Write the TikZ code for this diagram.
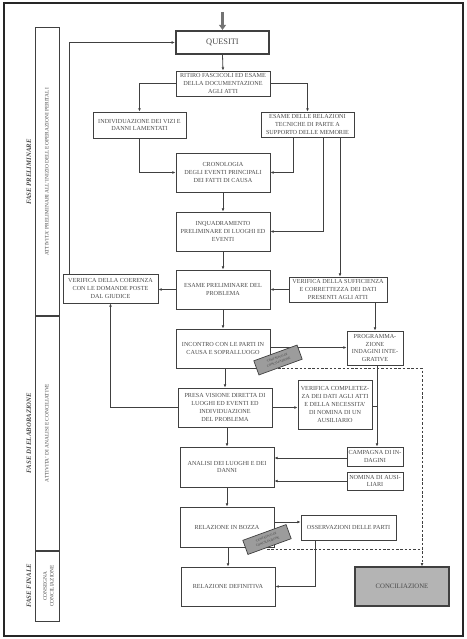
\documentclass[tikz,border=0pt]{standalone}
\usepackage{fontspec}
\setmainfont{Liberation Serif}
\usetikzlibrary{arrows.meta}
\definecolor{ln}{HTML}{404040}
\definecolor{tx}{HTML}{4A4A4A}
\definecolor{tagfill}{HTML}{9C9C9C}
\definecolor{concfill}{HTML}{B4B4B4}
\tikzset{
  box/.style={draw=ln, line width=0.9bp, inner sep=0pt, align=center, text=tx,
    font=\fontsize{6.2}{7.9}\selectfont},
  thickbox/.style={box, line width=2.2bp},
  arr/.style={draw=ln, line width=0.8bp, -{Latex[length=3.2bp,width=2.8bp]}},
  plain/.style={draw=ln, line width=0.8bp},
  dasharr/.style={draw=ln, line width=0.9bp, dash pattern=on 2.5bp off 1.8bp, -{Latex[length=3.2bp,width=2.8bp]}},
  dashplain/.style={draw=ln, line width=0.9bp, dash pattern=on 2.5bp off 1.8bp},
  tag/.style={draw=ln, fill=tagfill, line width=0.7bp, inner sep=0pt, minimum width=46bp,
    minimum height=15bp, rotate=20, align=center, text=black!75,
    font=\fontsize{3.2}{4.6}\selectfont},
  phaselab/.style={rotate=90, text=tx, font=\fontsize{6.8}{8}\selectfont\bfseries\itshape},
  actlab/.style={rotate=90, text=tx, align=center, font=\fontsize{5.4}{6.6}\selectfont},
  bigarr/.style={draw=black!55, line width=2.6bp, -{Triangle[length=5bp,width=7bp]}}
}
\begin{document}
\begin{tikzpicture}[x=1bp,y=-1bp]
\useasboundingbox (0,0) rectangle (467,639);
% outer frame
\draw[line width=1.8bp, draw=black!85] (4,3) rectangle (463,636);
% phase column
\draw[line width=1bp, draw=ln] (35,28) rectangle (59,621);
\draw[line width=1.8bp, draw=ln] (35,316) -- (59,316);
\draw[line width=1.8bp, draw=ln] (35,551) -- (59,551);
\node[phaselab] (p1) at (29,172) {FASE PRELIMINARE};
\node[phaselab] (p2) at (29,433) {FASE DI ELABORAZIONE};
\node[phaselab] (p3) at (29,586) {FASE FINALE};
\node[actlab] (a1) at (47,172) {ATTIVITA' PRELIMINARI ALL'INIZIO DELLE OPERAZIONI PERITALI};
\node[actlab] (a2) at (47,433) {ATTIVITA' DI ANALISI E CONCILIATIVE};
\node[actlab] (a3) at (48.5,586) {CONSEGNA\\CONCILIAZIONE};

% nodes
\node[thickbox, minimum width=93bp, minimum height=23bp, font=\fontsize{8.4}{9}\selectfont] (ques) at (222.5,42.5) {QUESITI};
\node[box, minimum width=94bp, minimum height=25bp] (rit) at (223,83.5) {RITIRO FASCICOLI ED ESAME\\DELLA DOCUMENTAZIONE\\AGLI ATTI};
\node[box, minimum width=93bp, minimum height=26bp] (ind) at (139.5,125) {INDIVIDUAZIONE DEI VIZI E\\DANNI LAMENTATI};
\node[box, minimum width=93bp, minimum height=25bp] (esr) at (307.5,124.5) {ESAME DELLE RELAZIONI\\TECNICHE DI PARTE A\\SUPPORTO DELLE MEMORIE};
\node[box, minimum width=94bp, minimum height=39bp] (cro) at (223,172.5) {CRONOLOGIA\\DEGLI EVENTI PRINCIPALI\\DEI FATTI DI CAUSA};
\node[box, minimum width=94bp, minimum height=39bp] (inq) at (223,231.5) {INQUADRAMENTO\\PRELIMINARE DI LUOGHI ED\\EVENTI};
\node[box, minimum width=94bp, minimum height=39bp] (esp) at (223,289.5) {ESAME PRELIMINARE DEL\\PROBLEMA};
\node[box, minimum width=98bp, minimum height=25bp] (suf) at (338,289.5) {VERIFICA DELLA SUFFICIENZA\\E CORRETTEZZA DEI DATI\\PRESENTI AGLI ATTI};
\node[box, minimum width=95bp, minimum height=29bp] (coe) at (110.5,288.5) {VERIFICA DELLA COERENZA\\CON LE DOMANDE POSTE\\DAL GIUDICE};
\node[box, minimum width=94bp, minimum height=39bp] (inc) at (223,348.5) {INCONTRO CON LE PARTI IN\\CAUSA E SOPRALLUOGO};
\node[box, minimum width=56bp, minimum height=34bp] (prg) at (375,348) {PROGRAMMA-\\ZIONE\\INDAGINI INTE-\\GRATIVE};
\node[box, minimum width=94bp, minimum height=39bp] (pre) at (225,407.5) {PRESA VISIONE DIRETTA DI\\LUOGHI ED EVENTI ED\\INDIVIDUAZIONE\\DEL PROBLEMA};
\node[box, minimum width=74bp, minimum height=49bp] (com) at (335,404.5) {VERIFICA COMPLETEZ-\\ZA DEI DATI AGLI ATTI\\E DELLA NECESSITA'\\DI NOMINA DI UN\\AUSILIARIO};
\node[box, minimum width=56bp, minimum height=19bp] (cam) at (375,456.5) {CAMPAGNA DI IN-\\DAGINI};
\node[box, minimum width=94bp, minimum height=40bp] (ana) at (227,467) {ANALISI DEI LUOGHI E DEI\\DANNI};
\node[box, minimum width=56bp, minimum height=18bp] (nom) at (375,481) {NOMINA DI AUSI-\\LIARI};
\node[box, minimum width=94bp, minimum height=40bp] (boz) at (227,527) {RELAZIONE IN BOZZA};
\node[box, minimum width=95bp, minimum height=25bp] (oss) at (348.5,527.5) {OSSERVAZIONI DELLE PARTI};
\node[box, line width=1bp, minimum width=94bp, minimum height=39bp] (def) at (228,586.5) {RELAZIONE DEFINITIVA};
\node[box, line width=1.4bp, fill=concfill, minimum width=94bp, minimum height=39bp, font=\fontsize{6.8}{8}\selectfont] (con) at (402,586.5) {CONCILIAZIONE};

% connectors
\coordinate (topin) at (222.5,12);
\draw[bigarr] (topin) -- (ques.north);
\draw[arr] (ques.south) -- (rit.north);
\draw[arr] (rit.west) -| (ind.north);
\draw[arr] (rit.east) -| (esr.north);
\draw[arr] (ind.south) |- (cro.west);
\draw[arr] ([xshift=-14.5bp]esr.south) |- (cro.east);
\draw[arr] ([xshift=15.5bp]esr.south) |- (inq.east);
\draw[arr] ([xshift=32.5bp]esr.south) -- ([xshift=32.5bp]esr.south |- suf.north);
\draw[arr] (cro.south) -- (inq.north);
\draw[arr] (inq.south) -- (esp.north);
\draw[arr] (suf.west) -- (esp.east);
\draw[arr] (esp.west) -- (esp.west -| coe.east);
\draw[arr] ([xshift=-41.5bp]coe.north) |- (ques.west);
\draw[arr] (pre.west) -| (coe.south);
\draw[arr] (esp.south) -- (inc.north);
\draw[arr] (suf.south -| prg.north) -- (prg.north);
\draw[arr] ([yshift=1bp]inc.east) -- ([yshift=1bp]inc.east -| prg.west);
\draw[arr] (pre.north |- inc.south) -- (pre.north);
\draw[arr] (pre.east) -- (pre.east -| com.west);
\draw[arr] ([xshift=2bp]prg.south) -- ([xshift=2bp]cam.north);
\draw[plain] ([yshift=-1.5bp]com.east) -- ([yshift=-1.5bp,xshift=2bp]com.east -| prg.south);
\draw[arr] ([yshift=-1.5bp]cam.west) -- ([yshift=-1.5bp]cam.west -| ana.east);
\draw[arr] (nom.west) -- (nom.west -| ana.east);
\draw[arr] (ana.north |- pre.south) -- (ana.north);
\draw[arr] (ana.south) -- (boz.north);
\draw[arr] ([yshift=5bp]boz.east) -- ([yshift=5bp]boz.east -| oss.west);
\draw[arr] ([xshift=-33.5bp]oss.south) |- (def.east);
\draw[arr] (def.north |- boz.south) -- (def.north);

% tags and dashed lines
\coordinate (t1) at (278,360);
\coordinate (t2) at (267,539.5);
\coordinate (dj) at (422,549);
\draw[dasharr] (t1 |- inc.south) -| ([xshift=20bp]con.north);
\draw[dashplain] (t2 |- dj) -- (dj);
\node[tag] (tag1) at (t1) {TENTATIVO DI\\CONCILIAZIONE};
\node[tag] (tag2) at (t2) {TENTATIVO DI\\CONCILIAZIONE};
\end{tikzpicture}
\end{document}
